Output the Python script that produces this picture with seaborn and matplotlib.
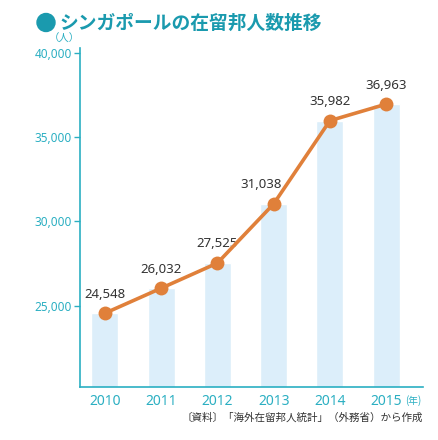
import numpy as np
import matplotlib
matplotlib.use("Agg")
import matplotlib.pyplot as plt
import seaborn as sns
import pandas as pd

# data
years = ["2010", "2011", "2012", "2013", "2014", "2015"]
residents = [24548, 26032, 27525, 31038, 35982, 36963]
yticks = [25000, 30000, 35000, 40000]
label_shift = [0, 0, 0, -0.23, 0, 0]   # 2013 label sits left of its point

teal = "#2BAFC2"
orange = "#E0803A"
barblue = "#DCEEFA"
num_font = ['Noto Sans', 'DejaVu Sans']

sns.set_theme(style="white")
plt.rcParams['font.family'] = ['Noto Sans CJK JP', 'DejaVu Sans']

df = pd.DataFrame({"year": years, "n": residents})

fig = plt.figure(figsize=(4.38, 4.40), dpi=100)
ax = fig.add_axes([0.183, 0.121, 0.782, 0.770])

sns.barplot(data=df, x="year", y="n", color=barblue, width=0.48,
            saturation=1, ax=ax)
x = np.arange(len(years))
ax.plot(x, residents, color=orange, lw=2.6, marker="o", ms=10,
        markeredgewidth=0, zorder=5)

for xi, v, dx in zip(x, residents, label_shift):
    ax.text(xi + dx, v + 750, f"{v:,}", ha="center", va="bottom",
            fontsize=9.5, color="#333333", family=num_font)

ax.set_xlim(-0.44, 5.65)
ax.set_ylim(20180, 40300)
ax.set_yticks(yticks)
ax.set_yticklabels([f"{t:,}" for t in yticks], color=teal, fontsize=8.5,
                   family=num_font)
ax.set_xticks(x)
ax.set_xticklabels(years, color=teal, fontsize=10, family=num_font)
ax.tick_params(axis="y", length=4, width=1, color=teal, pad=2, left=True)
ax.tick_params(axis="x", length=0, pad=5)
ax.set_xlabel("")
ax.set_ylabel("")

for s in ["top", "right"]:
    ax.spines[s].set_visible(False)
for s in ["left", "bottom"]:
    ax.spines[s].set_color(teal)
    ax.spines[s].set_linewidth(1.2)

# title bullet and notes
bullet = plt.Circle((0.46, 4.40 - 0.225), 0.09, color="#1A9AAE",
                    transform=fig.dpi_scale_trans)
fig.patches.append(bullet)
fig.text(0.135, 0.948, "シンガポールの在留邦人数推移", color="#1A9AAE",
         fontsize=13.5, fontweight="bold", va="center", ha="left")
fig.text(0.146, 0.911, "（人）", color=teal, fontsize=7.5, va="center", ha="center")
fig.text(0.924, 0.089, "(年)", color=teal, fontsize=7, va="center", ha="left")
fig.text(0.965, 0.052, "〔資料〕「海外在留邦人統計」（外務省）から作成",
         color="#333333", fontsize=7.6, va="center", ha="right")

fig.savefig("out.png", dpi=100, facecolor="white")
